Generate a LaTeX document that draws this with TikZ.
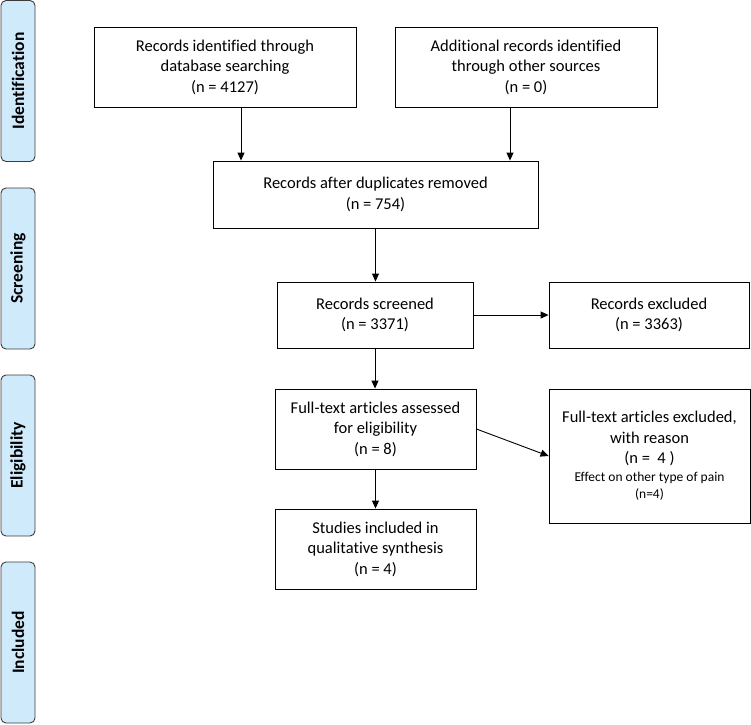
\documentclass[tikz,border=0pt]{standalone}
\usepackage{fontspec}
\setmainfont[Ligatures=NoCommon]{Carlito}
\usetikzlibrary{arrows.meta}
\definecolor{phasefill}{RGB}{207,234,251}
\definecolor{phaseline}{RGB}{60,60,60}

\begin{document}
\begin{tikzpicture}[x=1pt,y=-1pt,
  box/.style={draw,line width=0.9pt,inner sep=0pt,align=center,font=\fontsize{16.5}{20.5}\selectfont},
  phase/.style={draw=phaseline,fill=phasefill,line width=0.9pt,rounded corners=5pt,inner sep=0pt,
    minimum width=161pt,minimum height=34pt,rotate=90,font=\fontsize{17.5}{20}\selectfont\bfseries},
  arr/.style={-{Triangle[length=8pt,width=7pt]},line width=0.9pt}]
\useasboundingbox (0,0) rectangle (751,724);
% phases on the left
\node[phase] (ident) at (18,81) {Identification};
\node[phase] (screen) at (18,268.5) {Screening};
\node[phase] (elig) at (18,455.5) {Eligibility};
\node[phase] (incl) at (18,642.5) {Included};
% boxes
\node[box,minimum width=262pt,minimum height=80pt] (recid) at (225,67) {Records identified through\\database searching\\(n = 4127)};
\node[box,minimum width=262pt,minimum height=80pt] (addrec) at (526,67) {Additional records identified\\through other sources\\(n = 0)};
\node[box,minimum width=325pt,minimum height=67pt] (dup) at (375.5,194.5) {Records after duplicates removed\\(n = 754)};
\node[box,minimum width=196pt,minimum height=66pt] (scr) at (375,315) {Records screened\\(n = 3371)};
\node[box,minimum width=200pt,minimum height=66pt] (exc) at (649,315) {Records excluded\\(n = 3363)};
\node[box,minimum width=201pt,minimum height=80pt] (full) at (375.5,429) {Full-text articles assessed\\for eligibility\\(n = 8)};
\node[box,minimum width=201pt,minimum height=134pt] (fexc) at (649.5,456) {Full-text articles excluded,\\with reason\\(n =\ \ 4 )\\[-3pt]
  {\fontsize{13.5}{17.5}\selectfont Effect on other type of pain}\\[-3pt]{\fontsize{13.5}{17.5}\selectfont (n=4)}};
\node[box,minimum width=201pt,minimum height=80pt] (stud) at (375.5,549) {Studies included in\\qualitative synthesis\\(n = 4)};
% arrows
\draw[arr] ([xshift=16pt]recid.south) -- ([xshift=16pt]recid.south |- dup.north);
\draw[arr] ([xshift=-16pt]addrec.south) -- ([xshift=-16pt]addrec.south |- dup.north);
\draw[arr] (dup.south) -- (dup.south |- scr.north);
\draw[arr] (scr.east) -- (exc.west);
\draw[arr] (scr.south) -- (scr.south |- full.north);
\draw[arr] (full.east) -- (fexc.west);
\draw[arr] (full.south) -- (stud.north);
\end{tikzpicture}
\end{document}
